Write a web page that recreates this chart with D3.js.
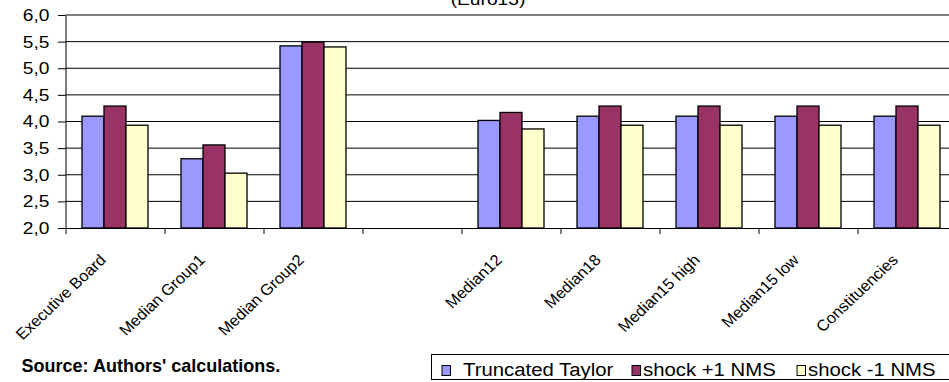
<!DOCTYPE html>
<html>
<head>
<meta charset="utf-8">
<script src="https://cdn.jsdelivr.net/npm/d3@7"></script>
<style>
  html, body { margin: 0; padding: 0; background: #fff; }
  svg { display: block; font-family: "Liberation Sans", Arial, sans-serif; }
</style>
</head>
<body>
<svg id="chart" width="949" height="382"></svg>
<script>
// Categories along the x axis (the fourth slot is an intentional gap)
const categories = ["Executive Board", "Median Group1", "Median Group2", "",
  "Median12", "Median18", "Median15 high", "Median15 low", "Constituencies"];

// Series values
const truncatedTaylor = [4.10, 3.30, 5.42, null, 4.02, 4.10, 4.10, 4.10, 4.10];
const shockPlus1NMS   = [4.29, 3.56, 5.49, null, 4.17, 4.29, 4.29, 4.29, 4.29];
const shockMinus1NMS  = [3.93, 3.03, 5.40, null, 3.86, 3.93, 3.93, 3.93, 3.93];

const seriesNames = ["Truncated Taylor", "shock +1 NMS", "shock -1 NMS"];
const seriesColors = ["#9999FF", "#993366", "#FFFFCC"];
const yTickValues = [2.0, 2.5, 3.0, 3.5, 4.0, 4.5, 5.0, 5.5, 6.0];
const titleText = "(Euro13)";
const sourceText = "Source: Authors' calculations.";

const series = [truncatedTaylor, shockPlus1NMS, shockMinus1NMS];
const svg = d3.select("#chart");
const sx = 1.13;      // horizontal text stretch
const sxLabel = 1.06; // stretch for rotated category labels

// Plot geometry
const plotLeft = 65.5, plotTop = 15, plotBottom = 228, step = 99;
const plotRight = plotLeft + step * categories.length;

const x = d3.scaleBand().domain(d3.range(categories.length)).range([plotLeft, plotRight]).paddingInner(0).paddingOuter(0);
const xInner = d3.scaleBand().domain(d3.range(series.length)).range([0, x.bandwidth()]).paddingInner(0).paddingOuter(0.75);
const y = d3.scaleLinear().domain([2, 6]).range([plotBottom, plotTop]);
const fmt = v => d3.format(".1f")(v).replace(".", ",");

// Gridlines
svg.append("g").selectAll("line").data(yTickValues.slice(1)).join("line")
  .attr("x1", plotLeft).attr("x2", plotRight)
  .attr("y1", d => y(d)).attr("y2", d => y(d))
  .attr("stroke", "#000").attr("stroke-width", 1);

// Bars
const groups = svg.append("g").selectAll("g").data(categories.map((c, i) => i)).join("g")
  .attr("transform", i => `translate(${x(i)},0)`);
groups.selectAll("rect")
  .data(i => series.map((s, k) => ({ k, v: s[i] })).filter(d => d.v != null))
  .join("rect")
  .attr("x", d => xInner(d.k))
  .attr("width", xInner.bandwidth())
  .attr("y", d => y(d.v))
  .attr("height", d => y(2) - y(d.v))
  .attr("fill", d => seriesColors[d.k])
  .attr("stroke", "#000").attr("stroke-width", 1.3);

// Y axis
const yAxis = d3.axisLeft(y).tickValues(yTickValues).tickFormat(fmt).tickSize(7.5).tickSizeOuter(0);
const gy = svg.append("g").attr("transform", `translate(${plotLeft},0)`).call(yAxis);
gy.select(".domain").attr("stroke", "#000");
gy.selectAll(".tick line").attr("stroke", "#000");
gy.selectAll(".tick text").attr("x", 0).attr("font-size", 17).attr("fill", "#000")
  .attr("font-family", "Liberation Sans, Arial, sans-serif")
  .attr("text-anchor", "end")
  .attr("transform", `translate(${-16},0) scale(${sx},1)`);

// X axis baseline and tick marks at category boundaries
const xBounds = d3.scaleLinear().domain([0, categories.length]).range([plotLeft, plotRight]);
const xAxis = d3.axisBottom(xBounds).tickValues(d3.range(categories.length + 1)).tickFormat("").tickSize(6).tickSizeOuter(0);
const gx = svg.append("g").attr("transform", `translate(0,${plotBottom})`).call(xAxis);
gx.select(".domain").attr("stroke", "#000");
gx.selectAll(".tick line").attr("stroke", "#000");

// Rotated category labels
svg.append("g").selectAll("text").data(categories.map((c, i) => ({ c, i }))).join("text")
  .attr("transform", d => `translate(${x(d.i) + x.bandwidth() / 2 - 8},${261}) scale(${sxLabel},1) rotate(-45)`)
  .attr("text-anchor", "end")
  .attr("font-size", 15.5)
  .attr("fill", "#000")
  .text(d => d.c);

// Title
svg.append("text")
  .attr("transform", `translate(488,4.5) scale(${sx},1)`)
  .attr("text-anchor", "middle").attr("font-size", 17).attr("fill", "#000")
  .text(titleText);

// Source note
svg.append("text")
  .attr("transform", `translate(21.5,371.5) scale(1.03,1)`)
  .attr("font-size", 17.5).attr("font-weight", "bold").attr("fill", "#000")
  .text(sourceText);

// Legend
const legend = svg.append("g");
legend.append("rect").attr("x", 431.5).attr("y", 354.5).attr("width", 540).attr("height", 25)
  .attr("fill", "#fff").attr("stroke", "#000").attr("stroke-width", 1);
const legendSwatchX = [442, 632, 797];
const legendTextX = [463, 643, 808];
seriesNames.forEach((name, k) => {
  legend.append("rect").attr("x", legendSwatchX[k]).attr("y", 365.5).attr("width", 8.5).attr("height", 10)
    .attr("fill", seriesColors[k]).attr("stroke", "#000").attr("stroke-width", 1);
  legend.append("text")
    .attr("transform", `translate(${legendTextX[k]},375.5) scale(${sx},1)`)
    .attr("font-size", 18).attr("fill", "#000").text(name);
});
</script>
</body>
</html>
